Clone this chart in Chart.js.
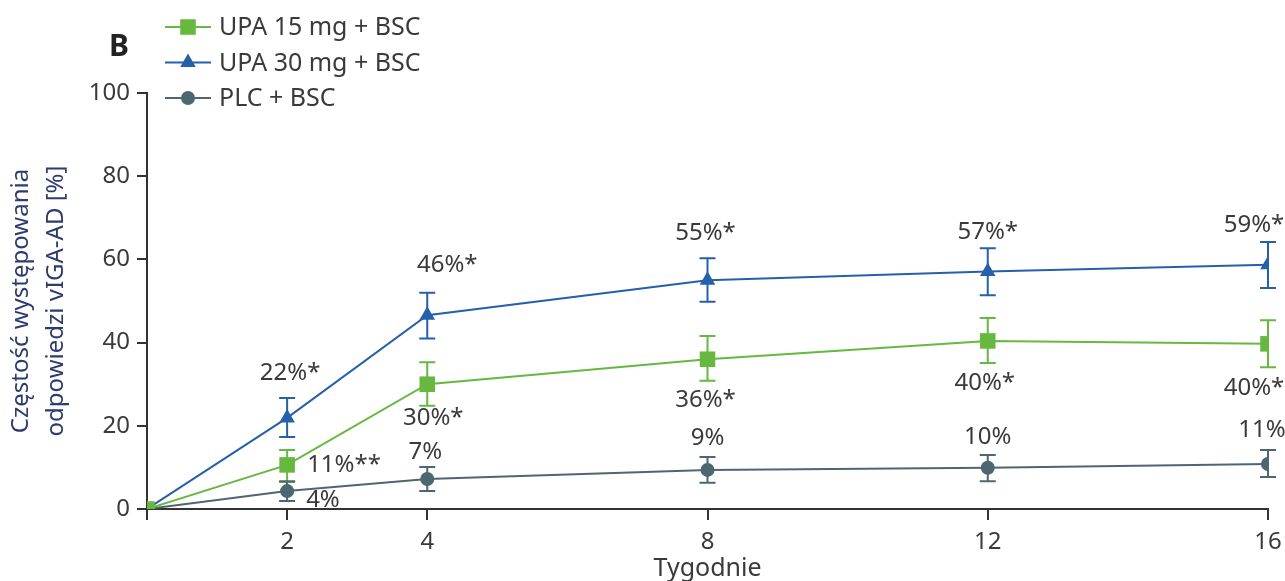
<!DOCTYPE html>
<html>
<head>
<meta charset="utf-8">
<script src="https://cdn.jsdelivr.net/npm/chart.js@4"></script>
<style>
  html, body { margin: 0; padding: 0; background: #fff; }
  #wrap { width: 1285px; height: 581px; }
</style>
</head>
<body>
<div id="wrap"><canvas id="c" width="1285" height="581"></canvas></div>
<script>
// weeks on the x axis
const weeks = [0, 2, 4, 8, 12, 16];
const xTicks = [0, 2, 4, 8, 12, 16];
const yTicks = [0, 20, 40, 60, 80, 100];

// UPA 15 mg + BSC
const upa15 = [0, 10.6, 30, 36, 40.4, 39.7];
const upa15Hi = [0, 14.2, 35.3, 41.6, 45.9, 45.4];
const upa15Lo = [0, 6.5, 24.8, 30.8, 35.1, 34.1];
const upa15Labels = ["", "11%**", "30%*", "36%*", "40%*", "40%*"];

// UPA 30 mg + BSC
const upa30 = [0, 21.9, 46.6, 55, 57.1, 58.7];
const upa30Hi = [0, 26.7, 52, 60.3, 62.7, 64.2];
const upa30Lo = [0, 17.3, 41, 49.8, 51.4, 53.1];
const upa30Labels = ["", "22%*", "46%*", "55%*", "57%*", "59%*"];

// PLC + BSC
const plc = [0, 4.3, 7.2, 9.4, 9.9, 10.8];
const plcHi = [0, 6.7, 10.1, 12.5, 13, 14.2];
const plcLo = [0, 1.9, 4.3, 6.3, 6.7, 7.7];
const plcLabels = ["", "4%", "7%", "9%", "10%", "11%"];

const GREEN = "#66b83f";
const BLUE = "#2560aa";
const GRAY = "#4d6670";
const TXT = "#3a3a3a";
const FONT = "'Noto Sans', 'Open Sans', sans-serif";

// label placement per series: [dx, dy, align] relative to the point
const labelPlace = {
  0: [[0,0,"center"],[20,0,"left"],[6,34,"center"],[-2,41,"center"],[-3,42,"center"],[-14,44,"center"]],
  1: [[0,0,"center"],[3,-45,"center"],[20,-50,"center"],[-2,-47,"center"],[0,-39,"center"],[-14,-40,"center"]],
  2: [[0,0,"center"],[19,9,"left"],[-2,-27,"center"],[0,-32,"center"],[0,-31,"center"],[-6,-34,"center"]]
};

const errorBars = {
  id: "errorBars",
  beforeDatasetsDraw(chart) {
    const ctx = chart.ctx, x = chart.scales.x, y = chart.scales.y;
    chart.data.datasets.forEach(ds => {
      ctx.save();
      ctx.strokeStyle = ds.borderColor;
      ctx.lineWidth = 2;
      ds.data.forEach((p, i) => {
        if (ds.hi[i] === ds.lo[i]) return;
        const px = x.getPixelForValue(p.x);
        const top = y.getPixelForValue(ds.hi[i]);
        const bot = y.getPixelForValue(ds.lo[i]);
        ctx.beginPath();
        ctx.moveTo(px, top); ctx.lineTo(px, bot);
        ctx.moveTo(px - 8, top); ctx.lineTo(px + 8, top);
        ctx.moveTo(px - 8, bot); ctx.lineTo(px + 8, bot);
        ctx.stroke();
      });
      ctx.restore();
    });
  },
  afterDatasetsDraw(chart) {
    const ctx = chart.ctx, x = chart.scales.x, y = chart.scales.y;
    ctx.save();
    ctx.font = "24px " + FONT;
    ctx.fillStyle = TXT;
    ctx.textBaseline = "middle";
    chart.data.datasets.forEach((ds, di) => {
      ds.data.forEach((p, i) => {
        const t = ds.labels[i];
        if (!t) return;
        const pl = labelPlace[di][i];
        ctx.textAlign = pl[2];
        ctx.fillText(t, x.getPixelForValue(p.x) + pl[0], y.getPixelForValue(p.y) + pl[1]);
      });
    });
    ctx.restore();
  },
  afterDraw(chart) {
    const ctx = chart.ctx;
    ctx.save();
    ctx.fillStyle = "#222";
    ctx.font = "bold 30px " + FONT;
    ctx.textAlign = "center";
    ctx.textBaseline = "middle";
    ctx.fillText("B", 119, 47);
    ctx.font = "25px " + FONT;
    ctx.textAlign = "left";
    chart.data.datasets.forEach((ds, i) => {
      const yy = 27 + i * 35.5;
      ctx.strokeStyle = ds.borderColor;
      ctx.lineWidth = 2;
      ctx.beginPath(); ctx.moveTo(165, yy); ctx.lineTo(211, yy); ctx.stroke();
      ctx.fillStyle = ds.borderColor;
      Chart.helpers.drawPoint(ctx, {pointStyle: ds.pointStyle, radius: ds.pointRadius, borderWidth: 0}, 188, yy);
      ctx.fillStyle = TXT;
      ctx.fillText(ds.label, 219, yy + 1);
    });
    ctx.restore();
  }
};

function pts(vals) { return weeks.map((w, i) => ({x: w, y: vals[i]})); }

new Chart(document.getElementById("c"), {
  type: "line",
  data: {
    datasets: [
      { label: "UPA 15 mg + BSC", data: pts(upa15), hi: upa15Hi, lo: upa15Lo, labels: upa15Labels,
        borderColor: GREEN, backgroundColor: GREEN, pointStyle: "rect", pointRadius: 11, borderWidth: 2, pointBorderWidth: 0 },
      { label: "UPA 30 mg + BSC", data: pts(upa30), hi: upa30Hi, lo: upa30Lo, labels: upa30Labels,
        borderColor: BLUE, backgroundColor: BLUE, pointStyle: "triangle", pointRadius: 9, borderWidth: 2, pointBorderWidth: 0 },
      { label: "PLC + BSC", data: pts(plc), hi: plcHi, lo: plcLo, labels: plcLabels,
        borderColor: GRAY, backgroundColor: GRAY, pointStyle: "circle", pointRadius: 7, borderWidth: 2, pointBorderWidth: 0 }
    ]
  },
  options: {
    responsive: false,
    animation: false,
    layout: { padding: { top: 93, right: 17, left: 0, bottom: 0 } },
    plugins: { legend: { display: false }, tooltip: { enabled: false } },
    scales: {
      x: {
        type: "linear", min: 0, max: 16,
        afterBuildTicks: s => { s.ticks = xTicks.map(v => ({value: v})); },
        afterFit: s => { s.height = 72; s.paddingRight = 0; s.paddingLeft = 0; },
        ticks: { color: TXT, font: { size: 24, family: FONT }, padding: 8, maxRotation: 0,
                 callback: v => v === 0 ? "" : String(v) },
        grid: { drawOnChartArea: false, tickLength: 11, color: "#333", lineWidth: 2 },
        border: { color: "#333", width: 2 },
        title: { display: true, text: "Tygodnie", color: TXT, font: { size: 25, family: FONT }, padding: { top: 0, bottom: -3 } }
      },
      y: {
        min: 0, max: 100,
        afterBuildTicks: s => { s.ticks = yTicks.map(v => ({value: v})); },
        afterFit: s => { s.width = 147; },
        ticks: { color: TXT, font: { size: 24, family: FONT }, padding: 7 },
        grid: { drawOnChartArea: false, tickLength: 10, color: "#333", lineWidth: 2 },
        border: { color: "#333", width: 2 },
        title: { display: true, text: ["Częstość występowania", "odpowiedzi vIGA-AD [%]"], color: "#2e3b6e",
                 font: { size: 24, family: FONT, lineHeight: 1.45 }, padding: { top: 4, bottom: 0 } }
      }
    }
  },
  plugins: [errorBars]
});
</script>
</body>
</html>
